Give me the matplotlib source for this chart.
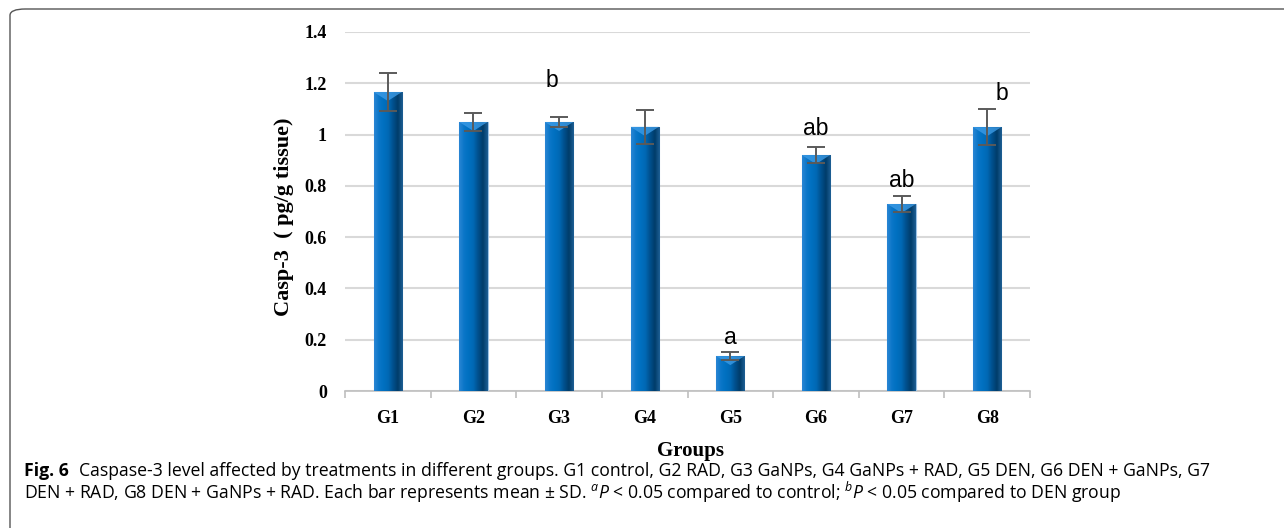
import numpy as np
import matplotlib
matplotlib.use("Agg")
import matplotlib.pyplot as plt
from matplotlib.colors import LinearSegmentedColormap
from matplotlib.patches import FancyBboxPatch, Polygon

plt.rcParams['mathtext.fontset'] = 'custom'
plt.rcParams['mathtext.rm'] = 'Open Sans'
plt.rcParams['mathtext.it'] = 'Open Sans:italic'

groups = ['G1', 'G2', 'G3', 'G4', 'G5', 'G6', 'G7', 'G8']
casp3 = [1.166, 1.049, 1.049, 1.030, 0.136, 0.920, 0.729, 1.029]
sd = [0.074, 0.035, 0.020, 0.065, 0.015, 0.030, 0.030, 0.070]
sig_labels = ['', '', 'b', '', 'a', 'ab', 'ab', 'b']
sig_y = [0, 0, 1.21, 0, 0.21, 1.025, 0.82, 1.16]
sig_dx = [0, 0, -0.08, 0, 0, 0, 0, 0.17]
yticks = [0, 0.2, 0.4, 0.6, 0.8, 1, 1.2, 1.4]

serif = 'Liberation Serif'
fig = plt.figure(figsize=(12.84, 5.28), dpi=100)
ax = fig.add_axes([345 / 1284, 137 / 528, 685 / 1284, 359 / 528])

x = np.arange(len(groups))
width = 0.33
bars = ax.bar(x, casp3, width=width, color='#0070c0', edgecolor='#9dc3e6',
              linewidth=0.8, zorder=2)

# horizontal shading inside each bar
shade = LinearSegmentedColormap.from_list(
    'shade', ['#2a86d4', '#0a76c8', '#0070c0', '#0068b4', '#004f8c', '#003c6a', '#1d5f94'])
grad = np.linspace(0, 1, 64).reshape(1, -1)
for rect, xi, v in zip(bars, x, casp3):
    im = ax.imshow(grad, cmap=shade, aspect='auto', zorder=2.1,
                   extent=[xi - width / 2, xi + width / 2, 0, v])
    im.set_clip_path(rect)
    tri = Polygon([[xi - width / 2, v], [xi + width / 2, v], [xi, v - 0.035]],
                  closed=True, facecolor='#3c9be6', edgecolor='none', alpha=0.8,
                  zorder=2.2)
    ax.add_patch(tri)

ax.errorbar(x, casp3, yerr=sd, fmt='none', ecolor='#5a5a5a', elinewidth=1.4,
            capsize=6.5, capthick=1.4, zorder=3)

for xi, lab, yy, dx in zip(x, sig_labels, sig_y, sig_dx):
    if lab:
        ax.text(xi + dx, yy, lab, ha='center', va='center', fontsize=16.5,
                family='Liberation Sans', color='black', zorder=4)

ax.set_xlim(-0.5, len(groups) - 0.5)
ax.set_ylim(0, 1.4)
ax.set_yticks(yticks)
ax.set_yticklabels([f'{t:g}' for t in yticks], family=serif,
                   fontweight='bold', fontsize=13)
ax.tick_params(axis='y', length=0, pad=13)
ax.set_xticks(x)
ax.set_xticklabels(groups, family=serif, fontweight='bold', fontsize=13)
ax.set_xticks(np.arange(len(groups) + 1) - 0.5, minor=True)
ax.tick_params(axis='x', which='major', length=0, pad=14)
ax.tick_params(axis='x', which='minor', length=5, width=1.2, color='#bfbfbf')
ax.yaxis.grid(True, color='#d9d9d9', linewidth=1.5, zorder=0)
ax.set_axisbelow(True)
for side in ['top', 'right', 'left']:
    ax.spines[side].set_visible(False)
ax.spines['bottom'].set_color('#bfbfbf')
ax.spines['bottom'].set_linewidth(1.2)
ax.spines['bottom'].set_zorder(1)

fig.text(284 / 1284, 1 - 217 / 528, 'Casp-3  ( pg/g tissue)', rotation=90,
         ha='center', va='center', family=serif, fontweight='bold', fontsize=16)
fig.text(690 / 1284, 1 - 451 / 528, 'Groups', ha='center', va='center',
         family=serif, fontweight='bold', fontsize=15)

# caption
cap_font = 'Open Sans'
cap_size = 12.7
fig.text(24 / 1284, 1 - 471 / 528, 'Fig. 6', ha='left', va='center',
         family=cap_font, fontweight='bold', fontsize=cap_size)
fig.text(79 / 1284, 1 - 471 / 528,
         'Caspase-3 level affected by treatments in different groups. G1 control, '
         'G2 RAD, G3 GaNPs, G4 GaNPs + RAD, G5 DEN, G6 DEN + GaNPs, G7',
         ha='left', va='center', family=cap_font, fontsize=cap_size)
fig.text(24 / 1284, 1 - 492 / 528,
         'DEN + RAD, G8 DEN + GaNPs + RAD. Each bar represents mean ± SD. '
         r'$^{a}\mathit{P}$ < 0.05 compared to control; '
         r'$^{b}\mathit{P}$ < 0.05 compared to DEN group',
         ha='left', va='center', family=cap_font, fontsize=cap_size)

# rounded frame running off the right and bottom edges
frame = FancyBboxPatch((10 / 1284, -10 / 528), 1300 / 1284, 529 / 528,
                       boxstyle='round,pad=0,rounding_size=0.012',
                       transform=fig.transFigure, facecolor='none',
                       edgecolor='#555555', linewidth=1.0, clip_on=False)
fig.patches.append(frame)

fig.savefig('out.png', dpi=100)
